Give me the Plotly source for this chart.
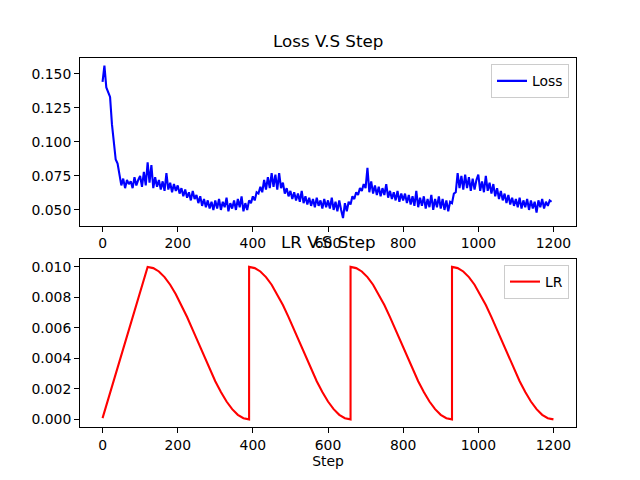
import plotly.graph_objects as go
from plotly.subplots import make_subplots

# ---- data ----
loss_step_interval = 5
loss_blocks = [
    [0.144, 0.156, 0.140, 0.137, 0.133, 0.113, 0.097, 0.087, 0.084, 0.077,
     0.068, 0.073, 0.066, 0.072, 0.069, 0.071, 0.066, 0.074, 0.068, 0.072],
    [0.075, 0.067, 0.078, 0.068, 0.085, 0.070, 0.083, 0.066, 0.074, 0.067,
     0.072, 0.065, 0.071, 0.064, 0.077, 0.065, 0.070, 0.063, 0.069, 0.064],
    [0.068, 0.062, 0.066, 0.060, 0.065, 0.059, 0.063, 0.057, 0.064, 0.058,
     0.061, 0.055, 0.060, 0.053, 0.058, 0.052, 0.057, 0.051, 0.056, 0.050],
    [0.057, 0.051, 0.058, 0.050, 0.056, 0.052, 0.059, 0.049, 0.055, 0.051,
     0.057, 0.050, 0.058, 0.052, 0.060, 0.049, 0.055, 0.050, 0.057, 0.055],
    [0.060, 0.057, 0.063, 0.062, 0.067, 0.063, 0.072, 0.065, 0.074, 0.066,
     0.077, 0.067, 0.076, 0.065, 0.077, 0.066, 0.070, 0.062, 0.066, 0.060],
    [0.064, 0.058, 0.063, 0.057, 0.062, 0.056, 0.064, 0.055, 0.060, 0.054,
     0.059, 0.053, 0.058, 0.052, 0.059, 0.053, 0.057, 0.051, 0.058, 0.052],
    [0.057, 0.051, 0.059, 0.050, 0.056, 0.049, 0.057, 0.050, 0.044, 0.055,
     0.049, 0.056, 0.054, 0.060, 0.058, 0.063, 0.061, 0.066, 0.064, 0.069],
    [0.066, 0.081, 0.063, 0.071, 0.062, 0.068, 0.061, 0.067, 0.060, 0.066,
     0.061, 0.069, 0.059, 0.064, 0.058, 0.063, 0.057, 0.064, 0.056, 0.062],
    [0.057, 0.062, 0.055, 0.061, 0.054, 0.060, 0.053, 0.064, 0.052, 0.059,
     0.053, 0.060, 0.051, 0.058, 0.052, 0.061, 0.050, 0.058, 0.052, 0.060],
    [0.051, 0.058, 0.050, 0.057, 0.049, 0.056, 0.055, 0.062, 0.063, 0.077,
     0.066, 0.075, 0.065, 0.076, 0.066, 0.074, 0.064, 0.073, 0.065, 0.072],
    [0.076, 0.064, 0.071, 0.063, 0.075, 0.064, 0.070, 0.062, 0.069, 0.060,
     0.066, 0.058, 0.064, 0.057, 0.062, 0.055, 0.061, 0.054, 0.059, 0.053],
    [0.058, 0.052, 0.059, 0.051, 0.057, 0.052, 0.058, 0.050, 0.057, 0.051,
     0.056, 0.048, 0.057, 0.052, 0.058, 0.051, 0.056, 0.053, 0.057, 0.056],
]
loss = [v for block in loss_blocks for v in block]
loss_steps = [i * loss_step_interval for i in range(len(loss))]

lr_warmup_steps = [0, 120]
lr_warmup_values = [0.00008, 0.0100]
lr_cycle_starts = [120, 390, 660, 930]
lr_cycle_offsets = [0, 15, 30, 45, 60, 75, 90, 105, 120, 135,
                    150, 165, 180, 195, 210, 225, 240, 255, 270]
lr_cycle_values = [0.01000, 0.00992, 0.00970, 0.00933, 0.00883, 0.00821,
                   0.00750, 0.00671, 0.00587, 0.00500, 0.00413, 0.00329,
                   0.00250, 0.00179, 0.00117, 0.00067, 0.00030, 0.00008, 0.00000]

lr_steps = list(lr_warmup_steps)
lr_values = list(lr_warmup_values)
for s in lr_cycle_starts:
    lr_steps += [s + o for o in lr_cycle_offsets]
    lr_values += lr_cycle_values

x_ticks = [0, 200, 400, 600, 800, 1000, 1200]
loss_ticks = [0.050, 0.075, 0.100, 0.125, 0.150]
lr_ticks = [0.000, 0.002, 0.004, 0.006, 0.008, 0.010]

# ---- figure ----
FONT = "DejaVu Sans"
W, H = 640, 480
ml, mr, mt, mb = 80, 64, 57.6, 52.8
plot_w = W - ml - mr
plot_h = H - mt - mb
ax_h = 168.0
top_dom = [1 - ax_h / plot_h, 1.0]
bot_dom = [0.0, ax_h / plot_h]

fig = make_subplots(rows=2, cols=1)
fig.update_layout(yaxis=dict(domain=top_dom), yaxis2=dict(domain=bot_dom))

fig.add_trace(go.Scatter(x=loss_steps, y=loss, mode="lines", name="Loss",
                         line=dict(color="#0000ff", width=2.1), legend="legend"),
              row=1, col=1)
fig.add_trace(go.Scatter(x=lr_steps, y=lr_values, mode="lines", name="LR",
                         line=dict(color="#ff0000", width=2.1), legend="legend2"),
              row=2, col=1)

# top subplot x label (mostly hidden behind lower axes in the reference)
fig.add_trace(go.Scatter(x=[600], y=[0.0121], mode="text", text=["Step"],
                         textfont=dict(family=FONT, size=13.9, color="black"),
                         cliponaxis=False, showlegend=False, hoverinfo="skip"),
              row=1, col=1)

axis_common = dict(showline=True, mirror=True, linecolor="black", linewidth=1.1,
                   ticks="outside", ticklen=4.9, tickwidth=1.1, tickcolor="black",
                   showgrid=False, zeroline=False,
                   tickfont=dict(family=FONT, size=13.9, color="black"))

fig.update_xaxes(range=[-60, 1260], tickvals=x_ticks, **axis_common)
fig.update_xaxes(title=dict(text="Step", font=dict(family=FONT, size=13.9, color="black"),
                            standoff=4), row=2, col=1)
fig.update_yaxes(range=[0.0384, 0.1616], tickvals=loss_ticks, tickformat=".3f",
                 row=1, col=1, **axis_common)
fig.update_yaxes(range=[-0.0005, 0.0105], tickvals=lr_ticks, tickformat=".3f",
                 row=2, col=1, **axis_common)

# white patch emulating the lower axes covering the upper x label
fig.add_shape(type="rect", xref="paper", yref="paper",
              x0=(307 - ml) / plot_w, x1=(347 - ml) / plot_w,
              y0=bot_dom[1] - 22 / plot_h, y1=bot_dom[1] - 1.0 / plot_h,
              fillcolor="white", line=dict(width=0), layer="above")

title_font = dict(family=FONT, size=16.7, color="black")
fig.add_annotation(text="Loss V.S Step", xref="paper", yref="paper", x=0.5, y=top_dom[1],
                   xanchor="center", yanchor="bottom", yshift=5, showarrow=False,
                   font=title_font)
fig.add_annotation(text="LR V.S Step", xref="paper", yref="paper", x=0.5, y=bot_dom[1],
                   xanchor="center", yanchor="bottom", yshift=5, showarrow=False,
                   font=title_font)

legend_common = dict(xanchor="right", yanchor="top", bgcolor="rgba(255,255,255,0.8)",
                     bordercolor="#cccccc", borderwidth=1,
                     font=dict(family=FONT, size=13.9, color="black"))
fig.update_layout(
    width=W, height=H,
    margin=dict(l=ml, r=mr, t=mt, b=mb),
    paper_bgcolor="white", plot_bgcolor="white",
    font=dict(family=FONT, color="black"),
    legend=dict(x=(569 - ml) / plot_w, y=(H - mb - 64) / plot_h, **legend_common),
    legend2=dict(x=(569 - ml) / plot_w, y=(H - mb - 265) / plot_h, **legend_common),
)

fig.write_html("out.html", config={"displayModeBar": False},
               post_script="document.body.style.margin='0px';")
